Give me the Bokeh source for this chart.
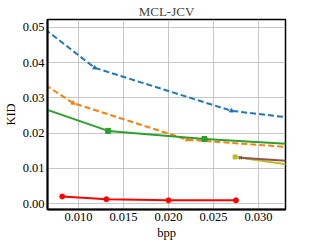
from bokeh.plotting import figure
from bokeh.embed import file_html
from bokeh.resources import INLINE
from bokeh.models import Range1d, FixedTicker, NumeralTickFormatter

# data
blue_x = [0.0055, 0.0118, 0.0270, 0.0360]
blue_y = [0.0510, 0.0385, 0.0263, 0.0236]
orange_x = [0.0055, 0.0094, 0.0221, 0.0350]
orange_y = [0.0350, 0.0285, 0.0181, 0.0157]
green_x = [0.0055, 0.0133, 0.0240, 0.0360]
green_y = [0.0275, 0.0206, 0.0183, 0.0165]
red_x = [0.0082, 0.0131, 0.0200, 0.0275]
red_y = [0.0020, 0.0012, 0.0009, 0.0009]
olive_x = [0.0274, 0.0360]
olive_y = [0.0132, 0.0101]
brown_x = [0.0280, 0.0360]
brown_y = [0.0130, 0.0116]

x_ticks = [0.010, 0.015, 0.020, 0.025, 0.030]
y_ticks = [0.00, 0.01, 0.02, 0.03, 0.04, 0.05]

SERIF = "Liberation Serif, serif"

p = figure(frame_width=238, frame_height=190, output_backend="svg",
           toolbar_location=None, title="MCL-JCV",
           x_range=Range1d(0.00656, 0.0330), y_range=Range1d(-0.0017, 0.0522),
           min_border_left=2, min_border_right=17, min_border_top=0,
           min_border_bottom=2)

p.title.align = "center"
p.title.text_font = SERIF
p.title.text_font_size = "13px"
p.title.text_font_style = "normal"
p.title.standoff = 2
p.title.offset = 0

p.outline_line_color = "black"
p.outline_line_width = 1.5
p.outline_line_alpha = 1

p.xaxis.ticker = FixedTicker(ticks=x_ticks)
p.yaxis.ticker = FixedTicker(ticks=y_ticks)
p.xaxis.formatter = NumeralTickFormatter(format="0.000")
p.yaxis.formatter = NumeralTickFormatter(format="0.00")
p.xaxis.axis_label = "bpp"
p.yaxis.axis_label = "KID"
for ax in (p.xaxis, p.yaxis):
    ax.axis_label_text_font = SERIF
    ax.axis_label_text_font_size = "12.5px"
    ax.axis_label_text_font_style = "normal"
    ax.major_label_text_font = SERIF
    ax.major_label_text_font_size = "12.5px"
    ax.major_label_text_color = "black"
    ax.axis_label_text_color = "black"
    ax.major_tick_out = 0
    ax.major_tick_in = 0
    ax.minor_tick_out = 0
    ax.minor_tick_in = 0
    ax.axis_line_color = "black"
    ax.axis_line_width = 2
    ax.major_label_standoff = 3
    ax.axis_label_standoff = 2

p.grid.grid_line_color = "#b0b0b0"
p.grid.grid_line_alpha = 0.7
p.grid.grid_line_width = 1

# blue dashed
p.line(blue_x, blue_y, line_color="#1f77b4", line_width=2, line_dash="6 3")
p.scatter(blue_x, blue_y, marker="triangle", size=4, color="#1f77b4")
# orange dashed
p.line(orange_x, orange_y, line_color="#ff7f0e", line_width=2, line_dash="6 3")
p.scatter(orange_x, orange_y, marker="triangle", size=4, color="#ff7f0e")
# green solid
p.line(green_x, green_y, line_color="#2ca02c", line_width=2)
p.scatter(green_x, green_y, marker="square", size=5, color="#2ca02c")
# red solid
p.line(red_x, red_y, line_color="red", line_width=2)
p.scatter(red_x, red_y, marker="circle", size=5, color="red")
# olive
p.line(olive_x, olive_y, line_color="#bcbd22", line_width=2)
p.scatter(olive_x, olive_y, marker="square", size=4, color="#bcbd22")
# brown
p.line(brown_x, brown_y, line_color="#8c564b", line_width=2)
p.scatter(brown_x, brown_y, marker="x", size=4, color="#8c564b", line_width=1.5)

open("out.html", "w").write(file_html(p, INLINE))
